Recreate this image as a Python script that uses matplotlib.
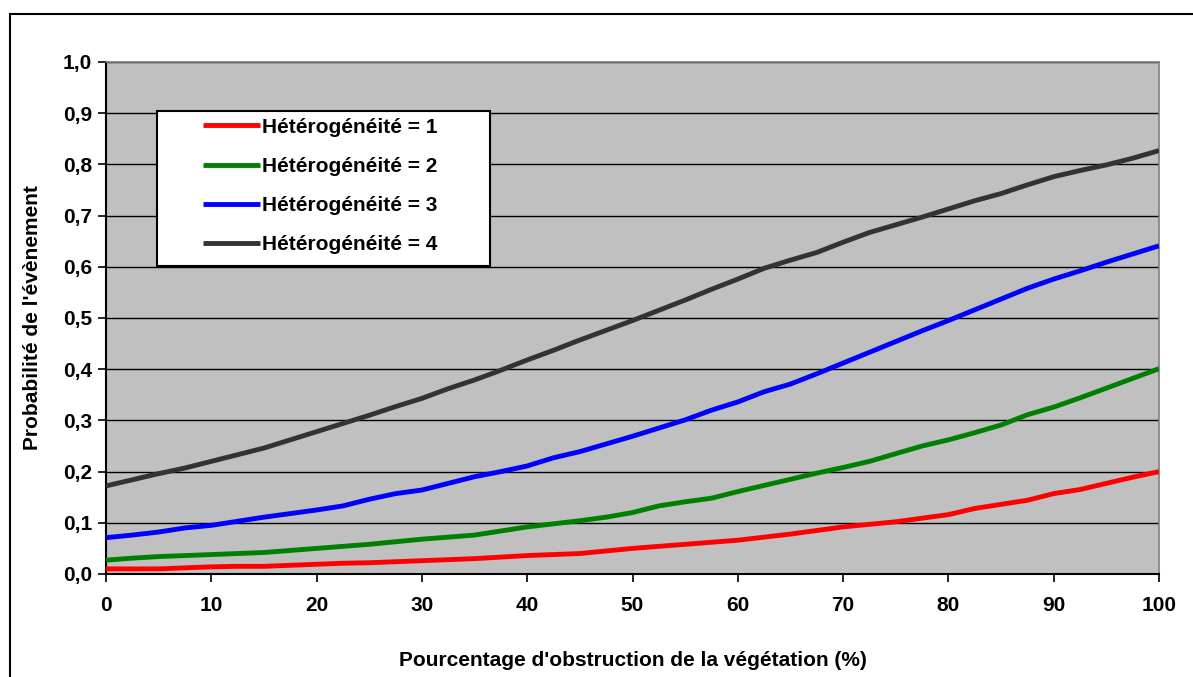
import matplotlib
matplotlib.use('Agg')
import matplotlib.pyplot as plt
from matplotlib.patches import Rectangle
from matplotlib.ticker import FuncFormatter

plt.rcParams['font.family'] = ['Liberation Sans', 'DejaVu Sans']
plt.rcParams['font.weight'] = 'bold'

# obstruction (%) every 2.5
x = [i * 2.5 for i in range(41)]

h1 = [0.010, 0.010, 0.010, 0.012, 0.014, 0.015, 0.015, 0.017, 0.019, 0.021,
      0.022, 0.024, 0.026, 0.028, 0.030, 0.033, 0.036, 0.038, 0.040, 0.045,
      0.050, 0.054, 0.058, 0.062, 0.066, 0.072, 0.078, 0.085, 0.092, 0.097,
      0.102, 0.109, 0.116, 0.128, 0.136, 0.144, 0.157, 0.165, 0.177, 0.189,
      0.200]
h2 = [0.027, 0.031, 0.034, 0.036, 0.038, 0.040, 0.042, 0.046, 0.050, 0.054,
      0.058, 0.063, 0.068, 0.072, 0.076, 0.084, 0.092, 0.098, 0.104, 0.111,
      0.120, 0.133, 0.141, 0.148, 0.161, 0.173, 0.185, 0.197, 0.208, 0.220,
      0.235, 0.250, 0.262, 0.276, 0.291, 0.311, 0.326, 0.344, 0.363, 0.382,
      0.401]
h3 = [0.071, 0.076, 0.082, 0.090, 0.095, 0.103, 0.111, 0.118, 0.125, 0.133,
      0.146, 0.157, 0.164, 0.177, 0.190, 0.200, 0.211, 0.227, 0.239, 0.254,
      0.269, 0.285, 0.301, 0.320, 0.336, 0.356, 0.371, 0.391, 0.412, 0.433,
      0.454, 0.475, 0.495, 0.516, 0.537, 0.558, 0.576, 0.592, 0.609, 0.625,
      0.641]
h4 = [0.172, 0.184, 0.196, 0.207, 0.220, 0.233, 0.246, 0.262, 0.278, 0.294,
      0.310, 0.327, 0.343, 0.362, 0.379, 0.398, 0.418, 0.437, 0.457, 0.476,
      0.495, 0.515, 0.535, 0.556, 0.576, 0.597, 0.613, 0.628, 0.648, 0.667,
      0.682, 0.697, 0.713, 0.729, 0.743, 0.760, 0.776, 0.788, 0.799, 0.812,
      0.827]

series = [h1, h2, h3, h4]
labels = ['Hétérogénéité = 1', 'Hétérogénéité = 2', 'Hétérogénéité = 3', 'Hétérogénéité = 4']
colors = ['#ff0000', '#008000', '#0000ff', '#333333']

W, H = 1193, 677
fs = 15
fig = plt.figure(figsize=(W / 100, H / 100), dpi=100)
ax = fig.add_axes([106 / W, 1 - 574 / H, (1159 - 106) / W, (574 - 62) / H])
ax.set_facecolor('#c0c0c0')

for y, c, lab in zip(series, colors, labels):
    ax.plot(x, y, color=c, lw=3.5, label=lab, solid_capstyle='butt', zorder=3)

ax.set_xlim(0, 100)
ax.set_ylim(0, 1.0)
ax.set_xticks(range(0, 101, 10))
ax.set_yticks([i / 10 for i in range(11)])
ax.yaxis.set_major_formatter(FuncFormatter(lambda v, p: f'{v:.1f}'.replace('.', ',')))
ax.yaxis.grid(True, color='black', lw=1)
ax.set_axisbelow(True)
ax.tick_params(direction='out', length=6, width=1.2, labelsize=fs, colors='black')
ax.tick_params(axis='x', pad=10)
ax.tick_params(axis='y', pad=4)
for s in ['left', 'bottom']:
    ax.spines[s].set_color('black')
    ax.spines[s].set_linewidth(1.5)
for s in ['top', 'right']:
    ax.spines[s].set_color('#808080')
    ax.spines[s].set_linewidth(1.2)

ax.set_xlabel("Pourcentage d'obstruction de la végétation (%)", fontsize=fs,
              fontweight='bold', labelpad=26)
ax.set_ylabel("Probabilité de l'évènement", fontsize=fs, fontweight='bold', labelpad=15)

# legend box
fig.add_artist(Rectangle((157 / W, 1 - 266 / H), (490 - 157) / W, (266 - 111) / H,
                         transform=fig.transFigure, facecolor='white', edgecolor='black',
                         lw=1.5, zorder=4))
leg = fig.legend(loc='upper left', bbox_to_anchor=(184 / W, 1 - 99 / H), frameon=False,
                 handlelength=2.75, handletextpad=0.1, labelspacing=0.97,
                 prop={'weight': 'bold', 'size': fs})
leg.set_zorder(5)

# outer chart border (bottom/right run off the image)
fig.add_artist(Rectangle((10 / W, -0.1), 1.2, 1 - 14 / H + 0.1, transform=fig.transFigure,
                         fill=False, edgecolor='black', lw=1.5))

fig.savefig('out.png', dpi=100)
